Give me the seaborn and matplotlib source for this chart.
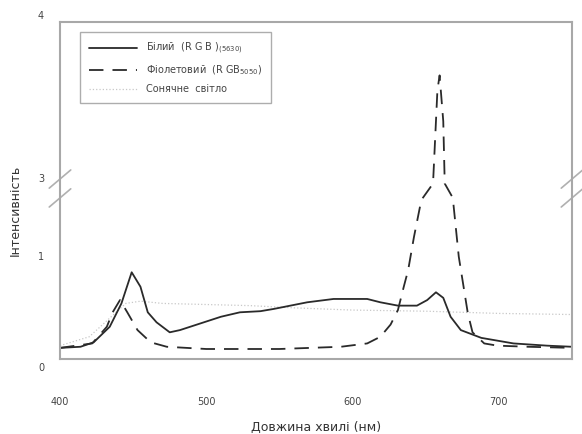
import matplotlib
matplotlib.use("Agg")
import matplotlib.pyplot as plt
import matplotlib.transforms as mtransforms
from matplotlib.lines import Line2D
import seaborn as sns
import numpy as np

# white LED (solid)
wl_white = [400, 414, 423, 434, 442, 449, 455, 460, 466, 475, 482, 496, 510, 523, 537,
            546, 569, 587, 610, 619, 631, 644, 651, 657, 662, 667, 674, 688, 710, 733, 750]
int_white = [0.10, 0.11, 0.15, 0.29, 0.50, 0.78, 0.65, 0.42, 0.33, 0.24, 0.26, 0.32, 0.38, 0.42, 0.43,
             0.45, 0.51, 0.54, 0.54, 0.51, 0.48, 0.48, 0.53, 0.60, 0.55, 0.38, 0.26, 0.19, 0.14, 0.12, 0.11]

# violet LED (dashed)
wl_violet = [400, 422, 432, 436, 441, 446, 453, 462, 473, 500, 550, 592, 610, 619, 626, 631,
             635, 638, 642, 647, 655, 658, 659.5, 662, 663, 668.5, 672.6, 678.8, 682, 690, 699, 720, 750]
int_violet = [0.10, 0.14, 0.29, 0.42, 0.53, 0.42, 0.26, 0.15, 0.11, 0.09, 0.09, 0.11, 0.14, 0.20, 0.31, 0.44,
              0.65, 0.80, 1.10, 1.43, 2.91, 3.54, 3.64, 3.33, 2.91, 1.45, 0.92, 0.41, 0.24, 0.14, 0.12, 0.11, 0.10]

# sunlight (dotted)
wl_sun = [400, 420, 435, 445, 455, 470, 500, 530, 560, 600, 650, 700, 750]
int_sun = [0.12, 0.20, 0.38, 0.50, 0.52, 0.50, 0.49, 0.48, 0.46, 0.44, 0.43, 0.41, 0.40]

y_ticks = [0, 1, 3, 4]
x_ticks = [400, 500, 600, 700]

# broken y axis: 0..1.52 below, 2.88..4 above
brk_data = [-10.0, 1.52, 2.88, 10.0]
brk_px = [-1110.0, 169.0, 171.0, 171.0 + 7.12 * 148.0]


def fwd(v):
    return np.interp(v, brk_data, brk_px)


def inv(v):
    return np.interp(v, brk_px, brk_data)


sns.set_style("white")
plt.rcParams["font.family"] = ["DejaVu Sans"]

fig = plt.figure(figsize=(5.82, 4.34), dpi=100)
ax = fig.add_axes([60 / 582, 75 / 434, 512 / 582, 337 / 434])
ax.set_yscale("function", functions=(fwd, inv))

sns.lineplot(x=wl_sun, y=int_sun, ax=ax, color="#c8c8c8", linewidth=0.9, linestyle=":")
sns.lineplot(x=wl_violet, y=int_violet, ax=ax, color="#2a2a2a", linewidth=1.3, linestyle=(0, (8, 5)))
sns.lineplot(x=wl_white, y=int_white, ax=ax, color="#2a2a2a", linewidth=1.3)

ax.set_xlim(400, 750)
ax.set_ylim(0, 4)
ax.set_xticks(x_ticks)
ax.set_yticks(y_ticks)

for s in ax.spines.values():
    s.set_color("#a8a8a8")
    s.set_linewidth(1.5)

ax.tick_params(axis="x", direction="inout", length=5, color="#a8a8a8", labelsize=7, pad=25, labelcolor="#444444")
ax.tick_params(axis="y", direction="inout", length=5, color="#a8a8a8", labelsize=7, pad=9, labelcolor="#444444")
for lab, dy in zip(ax.get_yticklabels(), [-8, -8, -8, 7]):
    off = mtransforms.ScaledTranslation(0, dy / 100, fig.dpi_scale_trans)
    lab.set_transform(lab.get_transform() + off)

ax.set_xlabel("Довжина хвилі (нм)", fontsize=9, color="#333333", labelpad=10)
ax.set_ylabel("Інтенсивність", fontsize=9, color="#333333")
ax.yaxis.set_label_coords(-0.075, 0.442)

# break marks on both spines
for xs in (0.0, 1.0):
    for yc in (0.478, 0.534):
        ax.plot([xs - 0.021, xs + 0.021], [yc - 0.027, yc + 0.027], transform=ax.transAxes,
                color="#b0b0b0", linewidth=1.2, clip_on=False)

handles = [
    Line2D([], [], color="#2a2a2a", linewidth=1.3),
    Line2D([], [], color="#2a2a2a", linewidth=1.3, linestyle=(0, (8, 5))),
    Line2D([], [], color="#c8c8c8", linewidth=0.9, linestyle=":"),
]
labels = [
    "Білий  (R G B )$_{\\mathregular{(5630)}}$",
    "Фіолетовий  (R GB$_{\\mathregular{5050}}$)",
    "Сонячне  світло",
]
leg = ax.legend(handles, labels, loc="upper left", bbox_to_anchor=(0.039, 0.97), borderaxespad=0,
                fontsize=7, handlelength=5.0, labelspacing=0.75, frameon=True, fancybox=False,
                borderpad=0.9, handletextpad=0.9)
leg.get_frame().set_edgecolor("#999999")
leg.get_frame().set_linewidth(1.0)
for t in leg.get_texts():
    t.set_color("#444444")

fig.savefig("out.png", dpi=100)
